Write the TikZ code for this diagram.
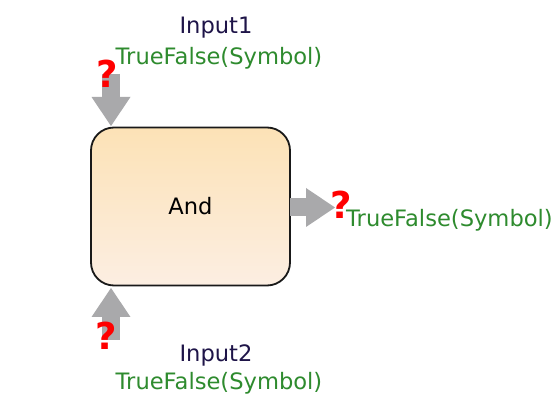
\documentclass[tikz,border=0pt]{standalone}
\usepackage{fontspec}
\setmainfont{DejaVu Sans}
\usetikzlibrary{arrows.meta}
\definecolor{pinnamec}{HTML}{1E1448}
\definecolor{pintypec}{HTML}{2E8B2E}
\definecolor{flowgray}{HTML}{A9A9AB}
\definecolor{boxtop}{HTML}{FCE2B6}
\definecolor{boxbot}{HTML}{FCEEE2}
\begin{document}
\begin{tikzpicture}[x=1pt,y=-1pt,
  lbl/.style={font=\fontsize{22.6}{26}\selectfont, inner sep=0pt},
  pinname/.style={lbl, text=pinnamec},
  pintype/.style={lbl, text=pintypec},
  gate/.style={draw=black!90, line width=1.8pt, rounded corners=23pt,
    minimum width=199pt, minimum height=158pt, top color=boxtop,
    bottom color=boxbot, lbl, text=black},
  flow/.style={draw=flowgray, line width=18pt,
    -{Triangle[length=29pt,width=39pt,line width=0pt]}},
  qmark/.style={text=red, inner sep=0pt,
    font=\fontsize{37}{37}\selectfont\bfseries}
]
\fill[white] (0,0) rectangle (557,411);
\useasboundingbox (0,0) rectangle (557,411);

% the gate
\node[gate] (and) at (190.5,206.5) {And};

% pin ends
\coordinate (in1) at (111,74);
\coordinate (in1tip) at (111,126);
\coordinate (in2) at (111,340);
\coordinate (in2tip) at (111,288);
\coordinate (outbase) at (290,207.5);
\coordinate (outtip) at (335,207.5);

% flow arrows
\draw[flow] (in1) -- (in1tip);
\draw[flow] (in2) -- (in2tip);
\draw[flow] (outbase) -- (outtip);

% unknown-value markers
\node[qmark] (q1) at (107,74) {?};
\node[qmark] (q2) at (106,336) {?};
\node[qmark] (q3) at (341,205) {?};

% pin labels
\node[pinname] (n1) at (216,28) {Input1};
\node[pintype] (t1) at (219,58) {TrueFalse(Symbol)};
\node[pinname] (n2) at (216,355) {Input2};
\node[pintype] (t2) at (219,383) {TrueFalse(Symbol)};
\node[pintype, anchor=west] (t3) at (346,220) {TrueFalse(Symbol)};
\end{tikzpicture}
\end{document}
